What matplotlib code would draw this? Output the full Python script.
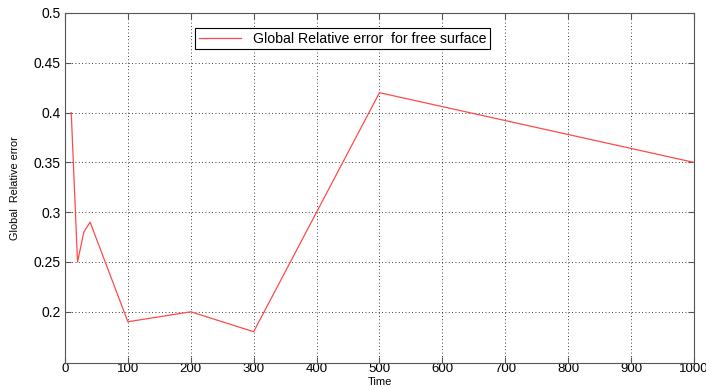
import matplotlib.pyplot as plt

plt.rcParams['font.family'] = ['Liberation Sans', 'DejaVu Sans']

# Global relative error over time
time = [10, 20, 30, 40, 100, 200, 300, 500, 1000]
rel_error = [0.40, 0.25, 0.28, 0.29, 0.19, 0.20, 0.18, 0.42, 0.35]

fig = plt.figure(figsize=(7.06, 3.88), dpi=100)
ax = fig.add_axes([0.092, 0.0655, 0.891, 0.901])

ax.plot(time, rel_error, color='#ff4a4a', linewidth=0.9,
        label='Global Relative error  for free surface')

ax.set_xlim(0, 1000)
ax.set_ylim(0.149, 0.5)
ax.set_xticks(range(0, 1001, 100))
ax.set_yticks([0.2, 0.25, 0.3, 0.35, 0.4, 0.45, 0.5])
ax.set_yticklabels(['0.2', '0.25', '0.3', '0.35', '0.4', '0.45', '0.5'])

ax.grid(True, linestyle=(0, (1, 3)), color='black', linewidth=0.6)
ax.tick_params(direction='in', top=True, right=True, labelsize=10,
               length=4, color='#555555')
ax.tick_params(axis='x', labelsize=9.5, pad=0.5)
ax.tick_params(axis='y', pad=3)
for s in ax.spines.values():
    s.set_color('#555555')

ax.set_xlabel('Time', fontsize=8)
ax.xaxis.set_label_coords(0.5, -0.041)
ax.set_ylabel('Global  Relative error', fontsize=7.8)
ax.yaxis.set_label_coords(-0.072, 0.5)

leg = ax.legend(loc='upper left', bbox_to_anchor=(0.207, 0.956), borderaxespad=0,
                fontsize=10.2, fancybox=False, framealpha=1, edgecolor='black',
                handlelength=3.0, borderpad=0.25)
leg.get_frame().set_linewidth(0.8)

fig.savefig('out.png', dpi=100)
